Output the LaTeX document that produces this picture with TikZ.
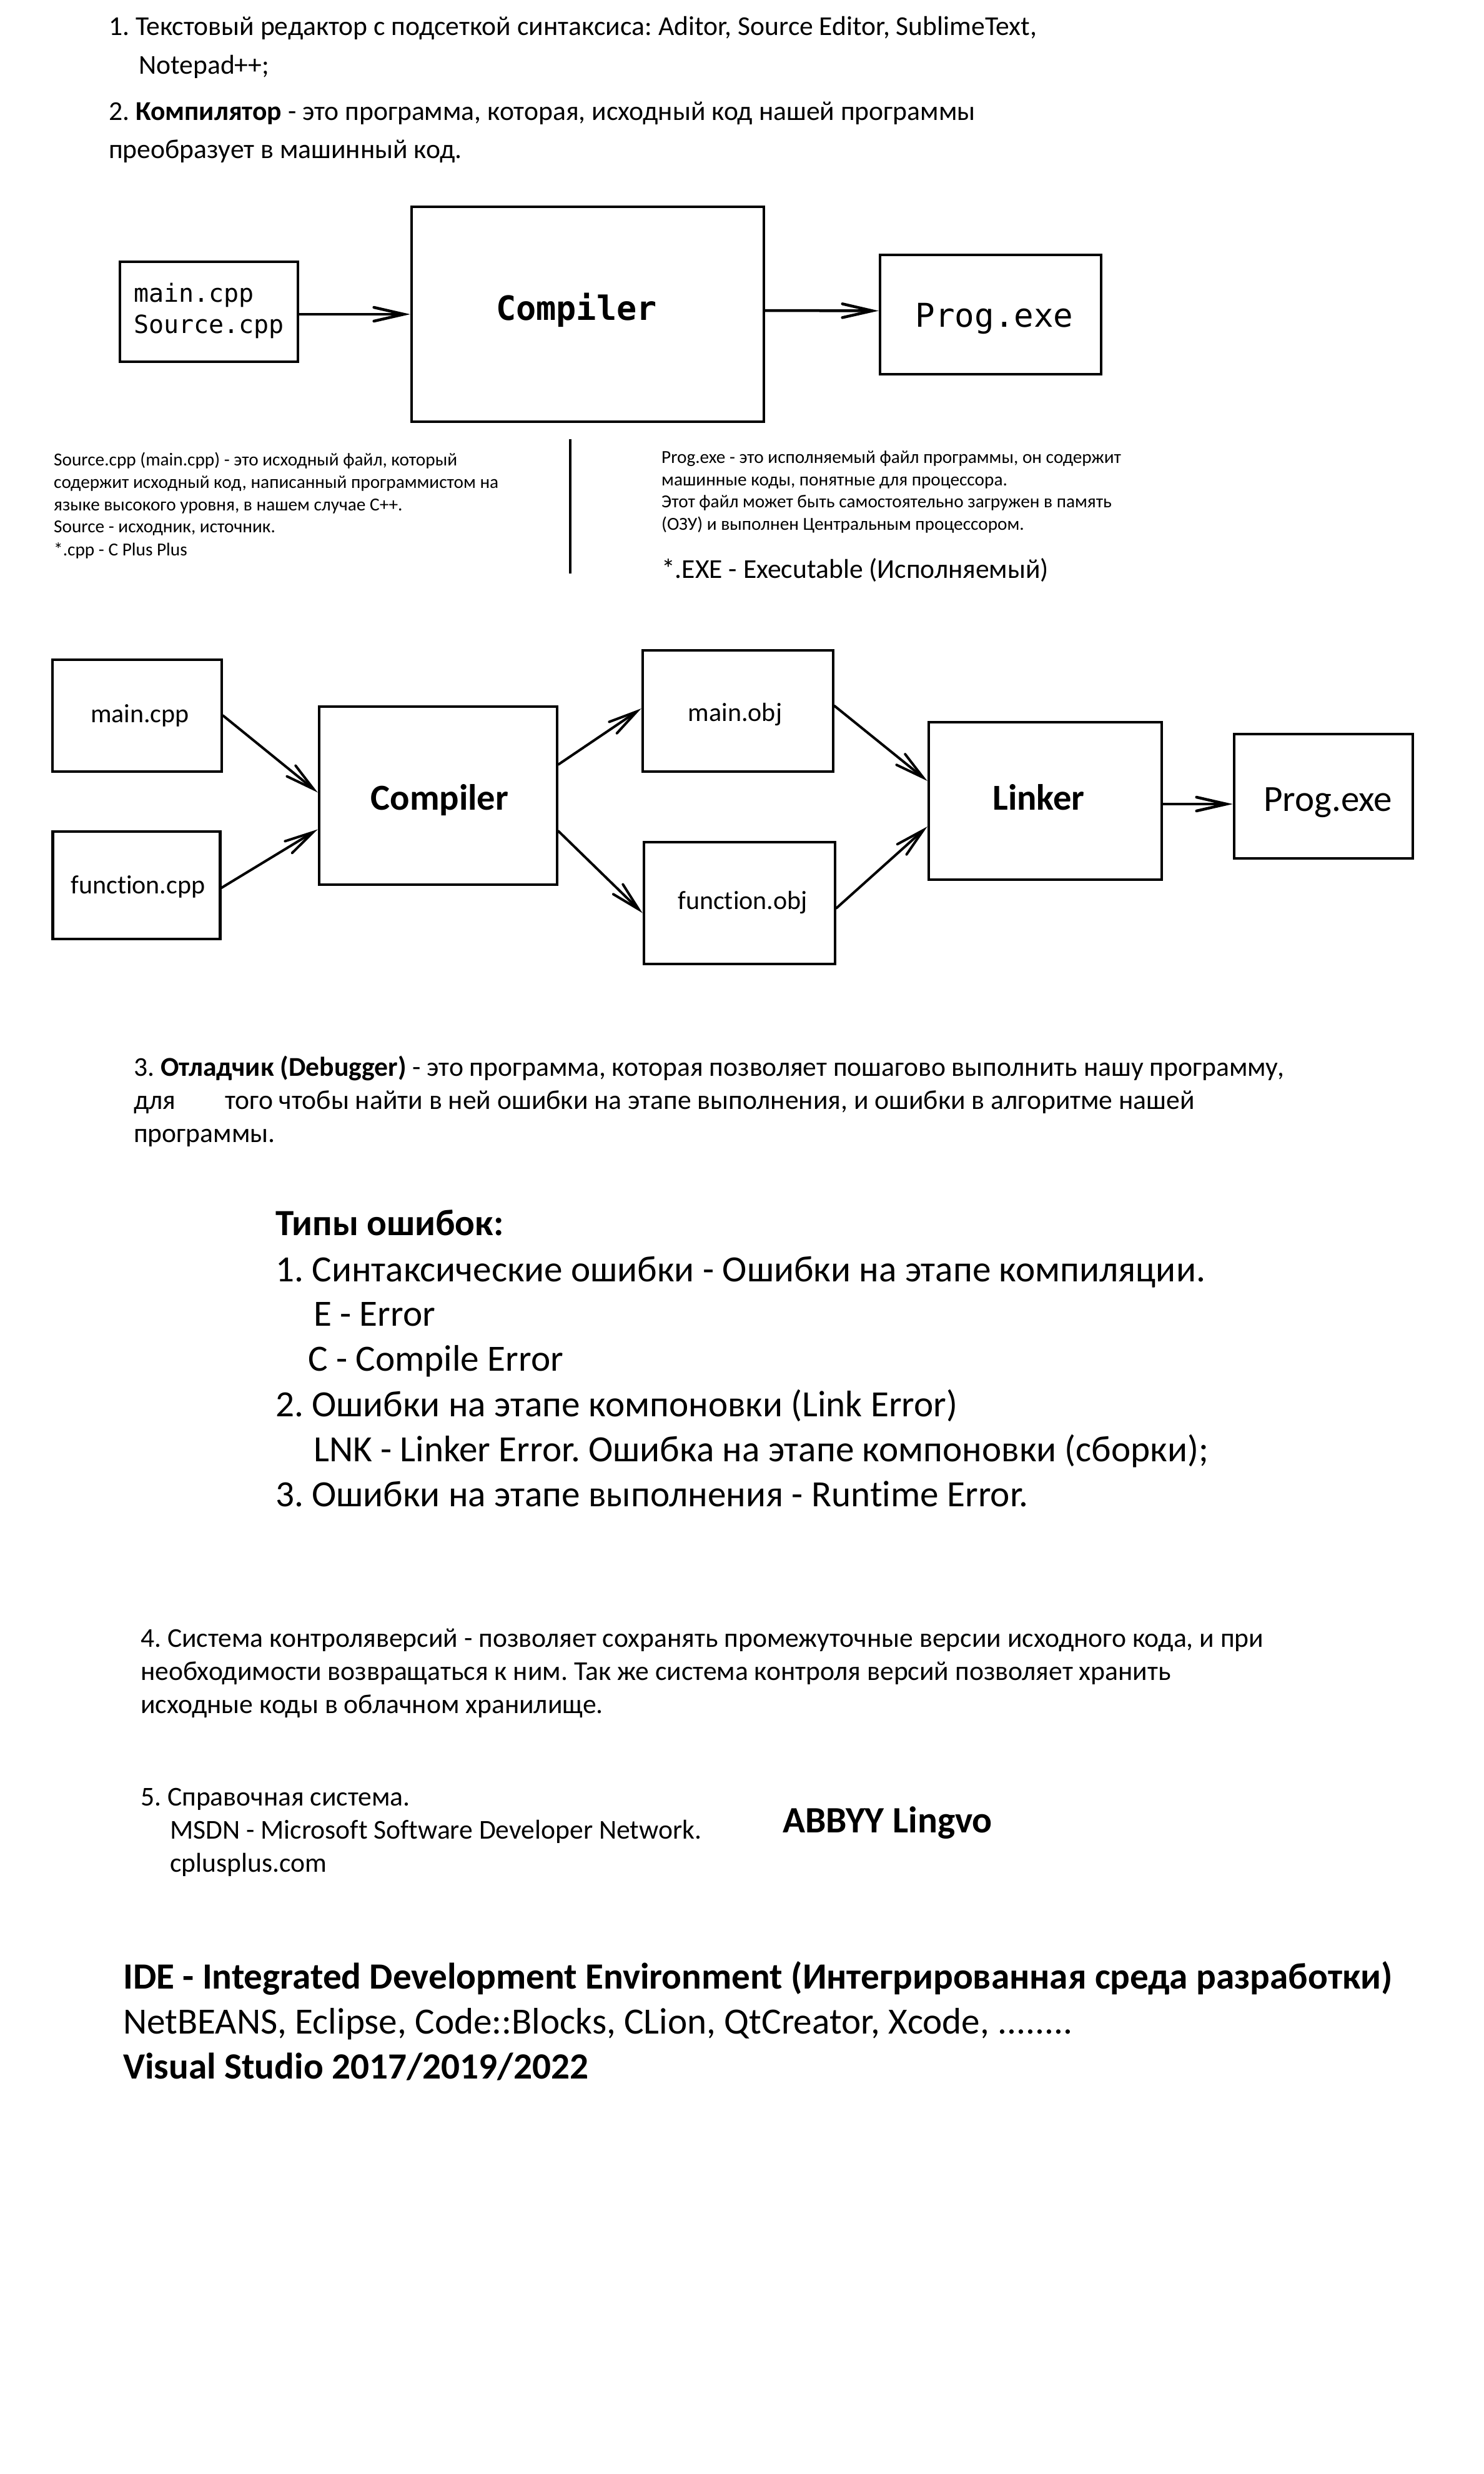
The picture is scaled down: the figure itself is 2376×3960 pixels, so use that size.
\documentclass[tikz,border=0pt]{standalone}
\usepackage{fontspec}
\setmainfont{Carlito}[Ligatures=NoCommon]
\setmonofont{DejaVu Sans Mono}
\usetikzlibrary{arrows.meta}
\newcommand\fsz[1]{\fontsize{#1}{#1}\selectfont}
\frenchspacing
\begin{document}
\begin{tikzpicture}[x=1pt,y=-1pt,
  txt/.style={anchor=base west, inner sep=0pt, font={\fsz{43.6}}},
  small/.style={anchor=base west, inner sep=0pt, font={\fsz{29.3}}},
  big/.style={anchor=base west, inner sep=0pt, font={\fsz{59.2}}},
  box/.style={draw, line width=4.5pt, inner sep=0pt, rectangle},
  lbl/.style={anchor=base, inner sep=0pt},
  arr/.style={line width=4.5pt, line cap=round,
    -{Straight Barb[length=48pt,width=22pt,line cap=round]}},
  arrd/.style={line width=4pt, line cap=round,
    -{Straight Barb[length=46pt,width=22pt,line cap=round]}}]
\fill[white] (0,0) rectangle (2376,3960);
\useasboundingbox (0,0) rectangle (2376,3960);

% ---- section 1 & 2 text
\node[txt] (t1) at (174,56) {1. Текстовый редактор с подсеткой синтаксиса: Aditor, Source Editor, SublimeText,};
\node[txt] (t2) at (222,118) {Notepad++;};
\node[txt] (t3) at (174,192) {2. \textbf{Компилятор} - это программа, которая, исходный код нашей программы};
\node[txt] (t4) at (174,253) {преобразует в машинный код.};

% ---- diagram 1
\node[box, minimum width=285pt, minimum height=160pt] (a1) at (334.5,499) {};
\node[lbl, anchor=base west, font={\ttfamily\fsz{40}}] (a1t1) at (214,483) {main.cpp};
\node[lbl, anchor=base west, font={\ttfamily\fsz{40}}] (a1t2) at (214,533) {Source.cpp};
\node[box, minimum width=564pt, minimum height=344pt] (c1) at (941,503) {};
\node[lbl, font={\ttfamily\bfseries\fsz{53.5}}] (c1t) at (923,512) {Compiler};
\node[box, minimum width=354pt, minimum height=191pt] (p1) at (1586,503.5) {};
\node[lbl, font={\ttfamily\fsz{52.5}}] (p1t) at (1592,523) {Prog.exe};
\draw[arr] (a1.east |- c1.west) -- (c1.west);
\draw[arr] ([yshift=6pt]c1.east) -- ([yshift=6pt]p1.west);

% ---- notes under diagram 1
\coordinate (vtop) at (913,703);
\coordinate (vbot) at (913,918);
\draw[line width=4pt] (vtop) -- (vbot);
\node[small] (l1) at (86,745) {Source.cpp (main.cpp) - это исходный файл, который};
\node[small] (l2) at (86,781) {содержит исходный код, написанный программистом на};
\node[small] (l3) at (86,817) {языке высокого уровня, в нашем случае С++.};
\node[small] (l4) at (86,852) {Source - исходник, источник.};
\node[small] (l5) at (86,889) {*.cpp - C Plus Plus};
\node[small] (r1) at (1059,741) {Prog.exe - это исполняемый файл программы, он содержит};
\node[small] (r2) at (1059,777) {машинные коды, понятные для процессора.};
\node[small] (r3) at (1059,812) {Этот файл может быть самостоятельно загружен в память};
\node[small] (r4) at (1059,848) {(ОЗУ) и выполнен Центральным процессором.};
\node[txt] (r5) at (1059,925) {*.EXE - Executable (Исполняемый)};

% ---- diagram 2
\node[box, minimum width=271pt, minimum height=179pt] (mc) at (219.5,1145.5) {};
\node[lbl, font={\fsz{42}}] (mct) at (224,1156) {main.cpp};
\node[box, minimum width=268pt, minimum height=172pt] (fc) at (218.5,1417) {};
\node[lbl, font={\fsz{42}}] (fct) at (221,1430) {function.cpp};
\node[box, minimum width=381pt, minimum height=285pt] (c2) at (701.5,1273.5) {};
\node[lbl, font={\bfseries\fsz{58.5}}] (c2t) at (704,1296) {Compiler};
\node[box, minimum width=305pt, minimum height=194pt] (mo) at (1181.5,1138) {};
\node[lbl, font={\fsz{42}}] (mot) at (1177,1154) {main.obj};
\node[box, minimum width=306pt, minimum height=195pt] (fo) at (1184,1445.5) {};
\node[lbl, font={\fsz{42}}] (fot) at (1189,1455) {function.obj};
\node[box, minimum width=373pt, minimum height=252pt] (lk) at (1673.5,1282) {};
\node[lbl, font={\bfseries\fsz{58.5}}] (lkt) at (1663,1296) {Linker};
\node[box, minimum width=286pt, minimum height=199pt] (pe) at (2119,1274.5) {};
\node[lbl, font={\fsz{59}}] (pet) at (2126,1298) {Prog.exe};
\draw[arrd] (mc.east) -- ([yshift=5pt]c2.west);
\draw[arrd] ([yshift=-4pt]fc.east) -- ([yshift=-54pt]c2.west);
\draw[arrd] ([yshift=50pt]c2.east) -- ([yshift=4pt]mo.west);
\draw[arrd] ([yshift=-57pt]c2.east) -- ([yshift=-16pt]fo.west);
\draw[arrd] ([yshift=8pt]mo.east) -- ([yshift=32pt]lk.west);
\draw[arrd] ([yshift=-8pt]fo.east) -- ([yshift=-41pt]lk.west);
\draw[arr] ([yshift=-5pt]lk.east) -- ([yshift=-12.5pt]pe.west);

% ---- section 3
\node[txt] (d1) at (214,1722) {3. \textbf{Отладчик (Debugger)} - это программа, которая позволяет пошагово выполнить нашу программу,};
\node[txt] (d2a) at (214,1775) {для};
\node[txt] (d2b) at (360,1775) {того чтобы найти в ней ошибки на этапе выполнения, и ошибки в алгоритме нашей};
\node[txt] (d3) at (214,1828) {программы.};

% ---- error types
\node[big, font={\bfseries\fsz{59.2}}] (e0) at (441,1977) {Типы ошибок:};
\node[big] (e1) at (441,2051) {1. Синтаксические ошибки - Ошибки на этапе компиляции.};
\node[big] (e2) at (502,2122) {E - Error};
\node[big] (e3) at (493,2194) {C - Compile Error};
\node[big] (e4) at (441,2267) {2. Ошибки на этапе компоновки (Link Error)};
\node[big] (e5) at (502,2339) {LNK - Linker Error. Ошибка на этапе компоновки (сборки);};
\node[big] (e6) at (441,2411) {3. Ошибки на этапе выполнения - Runtime Error.};

% ---- section 4 & 5
\node[txt] (v1) at (225,2636) {4. Система контроляверсий - позволяет сохранять промежуточные версии исходного кода, и при};
\node[txt] (v2) at (225,2689) {необходимости возвращаться к ним. Так же система контроля версий позволяет хранить};
\node[txt] (v3) at (225,2742) {исходные коды в облачном хранилище.};
\node[txt] (h1) at (225,2890) {5. Справочная система.};
\node[txt] (h2) at (272,2943) {MSDN - Microsoft Software Developer Network.};
\node[txt] (h3) at (272,2996) {cplusplus.com};
\node[big, font={\bfseries\fsz{59.5}}] (ab) at (1253,2933) {ABBYY Lingvo};

% ---- IDE
\node[big, font={\bfseries\fsz{59.2}}] (i1) at (197,3183) {IDE - Integrated Development Environment (Интегрированная среда разработки)};
\node[big] (i2) at (197,3255) {NetBEANS, Eclipse, Code::Blocks, CLion, QtCreator, Xcode, ........};
\node[big, font={\bfseries\fsz{59.2}}] (i3) at (197,3327) {Visual Studio 2017/2019/2022};
\end{tikzpicture}
\end{document}
